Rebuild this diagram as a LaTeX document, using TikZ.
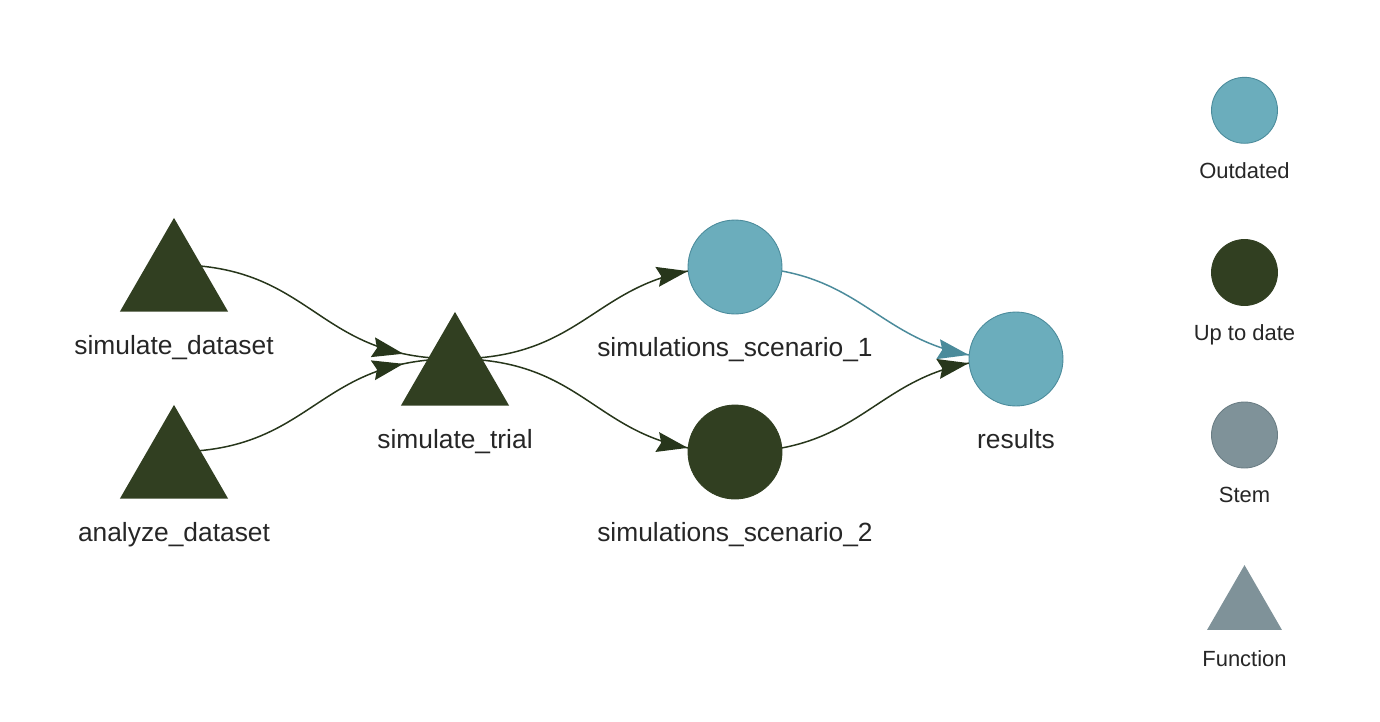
\documentclass[tikz,border=0pt]{standalone}
\usepackage{fontspec}
\setmainfont{Liberation Sans}
\usetikzlibrary{shapes.geometric,arrows.meta,decorations.markings,backgrounds}

\definecolor{uptodate}{HTML}{313F21}
\definecolor{uptodateline}{HTML}{27361B}
\definecolor{outdated}{HTML}{6BADBC}
\definecolor{outdatedline}{HTML}{4B8B9B}
\definecolor{stem}{HTML}{7F9299}
\definecolor{stemline}{HTML}{6A7D84}

\begin{document}
\begin{tikzpicture}[
  x=0.02cm, y=-0.02cm,
  graph_label/.style={font=\fontsize{15pt}{18pt}\selectfont, text=black!85, inner sep=0pt, yshift=-0.46cm},
  legend_label/.style={font=\fontsize{12.5pt}{15pt}\selectfont, text=black!85, inner sep=0pt, yshift=-0.36cm},
  target_node/.style={circle, minimum size=1.88cm, inner sep=0pt, line width=0.5pt},
  function_node/.style={regular polygon, regular polygon sides=3, minimum size=2.5cm, inner sep=0pt, fill=uptodate},
  legend_node/.style={circle, minimum size=1.32cm, inner sep=0pt, line width=0.5pt},
  dark_edge/.style={draw=uptodateline, line width=0.85pt},
  blue_edge/.style={draw=outdatedline, line width=0.85pt},
  tip_at/.style={postaction={decorate}, decoration={markings,
    mark=at position #1 with {\arrow{Stealth[length=0.62cm, width=0.4cm, inset=0.08cm]}}}},
]
\useasboundingbox (0,0) rectangle (1380,721);

% functions
\node[function_node, label={[graph_label]below:simulate\_dataset}] (sd) at (174,280.4) {};
\node[function_node, label={[graph_label]below:analyze\_dataset}] (ad) at (174,467.4) {};
\node[function_node, label={[graph_label]below:simulate\_trial}] (st) at (455,374.4) {};

% targets
\node[target_node, fill=outdated, draw=outdatedline, label={[graph_label]below:simulations\_scenario\_1}] (s1) at (735,267) {};
\node[target_node, fill=uptodate, draw=uptodate, label={[graph_label]below:simulations\_scenario\_2}] (s2) at (735,452) {};
\node[target_node, fill=outdated, draw=outdatedline, label={[graph_label]below:results}] (res) at (1016,359) {};

% edges, centre to centre, under the nodes
\begin{pgfonlayer}{background}
\draw[dark_edge, tip_at=-1.04cm] ([shift={(0,-15.6)}]sd.center) .. controls +(140,0) and +(-140,0) .. ([shift={(0,-15.6)}]st.center);
\draw[dark_edge, tip_at=-1.04cm] ([shift={(0,-15.6)}]ad.center) .. controls +(140,0) and +(-140,0) .. ([shift={(0,-15.6)}]st.center);
\draw[dark_edge, tip_at=-0.95cm] ([shift={(0,-15.6)}]st.center) .. controls +(140,0) and +(-140,0) .. (s1.center);
\draw[dark_edge, tip_at=-0.95cm] ([shift={(0,-15.6)}]st.center) .. controls +(140,0) and +(-140,0) .. (s2.center);
\draw[blue_edge, tip_at=-0.95cm] (s1.center) .. controls +(140,0) and +(-140,0) .. (res.center);
\draw[dark_edge, tip_at=-0.95cm] (s2.center) .. controls +(140,0) and +(-140,0) .. (res.center);
\end{pgfonlayer}

% legend
\node[legend_node, fill=outdated, draw=outdatedline, label={[legend_label]below:Outdated}] (lg_out) at (1244.5,110.3) {};
\node[legend_node, fill=uptodate, draw=uptodate, label={[legend_label]below:Up to date}] (lg_up) at (1244.5,272.5) {};
\node[legend_node, fill=stem, draw=stemline, label={[legend_label]below:Stem}] (lg_stem) at (1244.5,435) {};
\node[function_node, minimum size=1.73cm, fill=stem, label={[legend_label, yshift=-0.04cm]below:Function}] (lg_fn) at (1244.5,608.3) {};
\end{tikzpicture}
\end{document}
